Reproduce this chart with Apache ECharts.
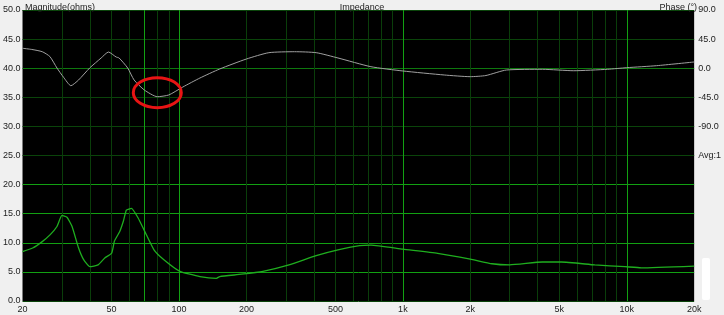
<!DOCTYPE html>
<html><head><meta charset="utf-8">
<script src="https://cdn.jsdelivr.net/npm/echarts@6/dist/echarts.min.js"></script>
<style>html,body{margin:0;padding:0;background:#f0f0f0}#c{width:724px;height:315px}</style>
</head><body><div id="c"></div><script>
// Impedance magnitude (ohms) vs frequency (Hz)
const magFreq = [20,22.2,24.5,26.6,28.5,30,31.6,33.3,35.6,37.5,40,43.5,46.6,50,51.5,54.3,56.5,58.2,61.3,65.6,70.2,77.3,85.6,101,124,147,152,190,237,310,410,513,640,720,1000,1430,2000,2500,3000,4200,5100,7200,9800,11600,20000];
const magOhms = [8.5,9.1,10.2,11.4,12.8,14.7,14.4,12.8,9.1,7.1,5.9,6.2,7.4,8.2,10.3,11.9,13.8,15.6,15.9,14.3,12.0,8.8,7.1,5.1,4.2,3.9,4.2,4.6,5.1,6.2,7.8,8.8,9.5,9.6,8.9,8.2,7.2,6.4,6.2,6.7,6.7,6.2,5.9,5.7,6.0];
// Phase (degrees) vs frequency (Hz)
const phaseFreq = [20,22,24.5,26.5,28.5,30.5,32.9,35.6,39.9,44.9,48.4,52.4,54,59,63,70,80,90,104,124,152,200,252,328,410,513,720,1000,1530,2000,2350,2900,4200,5800,8200,10000,13600,20000];
const phaseDeg = [30.8,29,25.5,18,0.3,-14,-27.1,-18.2,0.3,15.8,25.0,17.3,15.8,0.3,-18.2,-33.7,-44.1,-41.4,-29.1,-15.2,-1.2,14.2,24.0,25.5,24.0,15.8,2.3,-4.3,-10.5,-13.1,-11.3,-2.8,-1.7,-3.9,-1.7,0.8,3.9,9.6];
// Axis labels / grid
const xLabelFreqs = [20,50,100,200,500,1000,2000,5000,10000,20000];
const gridFreqs = [30,40,50,60,70,80,90,100,200,300,400,500,600,700,800,900,1000,2000,3000,4000,5000,6000,7000,8000,9000,10000];
const brightFreqs = [70,100,1000,10000];
const magMin = 0, magMax = 50, magStep = 5;
const phaseMin = -360, phaseMax = 90, phaseStep = 45;
const phaseLabelMin = -90;
const avgLabel = 'Avg:1';
const avgLabelValue = -135;
const circleFreq = 80, circleOhms = 35.8;

const FONT = 'Liberation Sans';
const chart = echarts.init(document.getElementById('c'), null, {renderer:'canvas'});
const dim = '#0a3e0a', bright = '#12a012', hDim = '#0a440a', hMid = '#0e780e';
const hColors = [hDim, bright, bright, bright, bright, hDim, hDim, hDim, hMid, hDim, hDim];

const option = {
  backgroundColor: '#f0f0f0',
  animation: false,
  textStyle: {fontFamily: FONT},
  grid: {left: 20, right: 24, top: 10, bottom: 14, show: true, backgroundColor: '#000', borderWidth: 0},
  title: [
    {text: 'Impedance', left: 'center', top: -2, textStyle: {fontSize: 9, fontWeight: 'normal', color: '#222', fontFamily: FONT}},
    {text: 'Magnitude(ohms)', left: 20, top: -2, textStyle: {fontSize: 9, fontWeight: 'normal', color: '#222', fontFamily: FONT}},
    {text: 'Phase (°)', right: 22, top: -2, textStyle: {fontSize: 9, fontWeight: 'normal', color: '#222', fontFamily: FONT}}
  ],
  xAxis: {
    type: 'log', logBase: 10, min: 20, max: 20000,
    axisLine: {show: false},
    axisTick: {show: false, customValues: gridFreqs},
    splitLine: {show: false},
    axisLabel: {customValues: xLabelFreqs, margin: 4, fontSize: 9, color: '#222', fontFamily: FONT,
      formatter: v => v >= 1000 ? (Math.round(v/1000) + 'k') : String(Math.round(v))}
  },
  yAxis: [
    {type: 'value', min: magMin, max: magMax, interval: magStep, position: 'left',
     axisLine: {show: false}, axisTick: {show: false},
     axisLabel: {margin: 2, fontSize: 9, color: '#222', fontFamily: FONT, formatter: v => v.toFixed(1)},
     splitLine: {show: true, lineStyle: {color: hColors, width: 1}}},
    {type: 'value', min: phaseMin, max: phaseMax, interval: phaseStep, position: 'right',
     axisLine: {show: false}, axisTick: {show: false}, splitLine: {show: false},
     axisLabel: {margin: 4, fontSize: 9, color: '#222', fontFamily: FONT,
       formatter: v => v >= phaseLabelMin ? v.toFixed(1) : (v === avgLabelValue ? avgLabel : '')}}
  ],
  series: [
    {type: 'line', name: 'Magnitude', xAxisIndex: 0, yAxisIndex: 0, z: 3,
     data: magFreq.map((f, i) => [f, magOhms[i]]),
     showSymbol: false, smooth: 0.15, lineStyle: {color: '#1fae1f', width: 1.3},
     markLine: {silent: true, z: 1, symbol: ['none', 'none'], label: {show: false}, animation: false,
       data: gridFreqs.map(f => ({xAxis: f, lineStyle: {type: 'solid', width: 1, color: brightFreqs.includes(f) ? bright : dim}}))}},
    {type: 'line', name: 'Phase', xAxisIndex: 0, yAxisIndex: 1, z: 3,
     data: phaseFreq.map((f, i) => [f, phaseDeg[i]]),
     showSymbol: false, smooth: 0.2, lineStyle: {color: '#a0a0a0', width: 1}}
  ]
};
chart.setOption(option);
const c = chart.convertToPixel({xAxisIndex: 0, yAxisIndex: 0}, [circleFreq, circleOhms]);
chart.setOption({graphic: [
  {type: 'ellipse', shape: {cx: c[0], cy: c[1], rx: 24, ry: 15}, style: {fill: 'none', stroke: '#e81414', lineWidth: 3}, z: 100},
  {type: 'rect', shape: {x: 702, y: 258, width: 8, height: 42, r: 2}, style: {fill: '#ffffff'}, z: 100}
]});
</script></body></html>
